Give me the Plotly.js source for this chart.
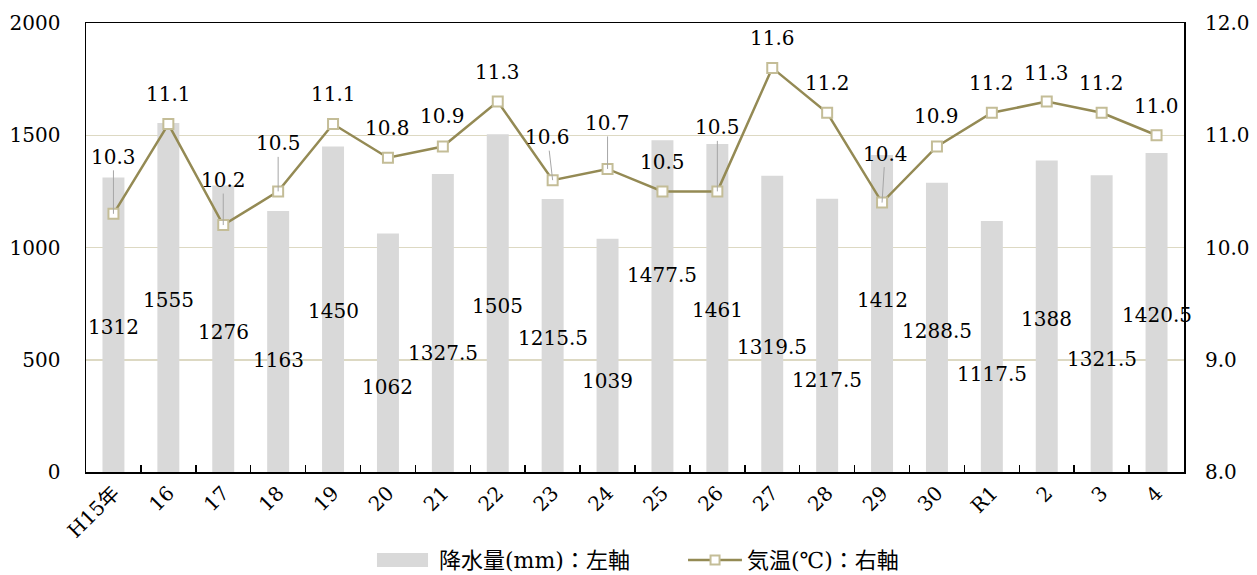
<!DOCTYPE html>
<html>
<head>
<meta charset="utf-8">
<script src="https://cdn.plot.ly/plotly-3.0.1.min.js"></script>
<style>html,body{margin:0;padding:0;background:#fff;}#chart{width:1257px;height:575px;}</style>
</head>
<body>
<div id="chart"></div>
<script>
// Data
const years = ["H15年","16","17","18","19","20","21","22","23","24","25","26","27","28","29","30","R1","2","3","4"];
const precipitation = [1312,1555,1276,1163,1450,1062,1327.5,1505,1215.5,1039,1477.5,1461,1319.5,1217.5,1412,1288.5,1117.5,1388,1321.5,1420.5];
const temperature = [10.3,11.1,10.2,10.5,11.1,10.8,10.9,11.3,10.6,10.7,10.5,10.5,11.6,11.2,10.4,10.9,11.2,11.3,11.2,11.0];
const seriesNames = ['降水量(mm)：左軸', '気温(℃)：右軸'];

// Label placement (layout only)
const precipLabelY = [646,766,624,499,717,379,530,739,597,405,877,722,557,410,766,628,437,682,503,699];
const tempLabelDx = [0,0,0,0,0,0,0,0,-5,0,0,0,0,0,3,0,0,0,0,0];
const tempLabelDy = [-57,-30,-45,-48,-30,-30,-30,-30,-43,-46,-29,-64,-30,-30,-49,-30,-30,-29,-30,-29];
const leader = [1,0,1,1,0,0,0,0,1,1,0,1,0,0,1,0,0,0,0,0];

const FONT = '"DejaVu Serif", "Noto Sans CJK JP", serif';
const BAR_COLOR = '#D9D9D9', LINE_COLOR = '#948A54', MARK_LINE = '#C4BD97';
const annotations = [];
years.forEach((c, i) => {
  annotations.push({
    x: i, y: precipLabelY[i], xref: 'x', yref: 'y',
    text: String(precipitation[i]), showarrow: false,
    font: {family: FONT, size: 20, color: '#000'}
  });
  const t = temperature[i].toFixed(1);
  if (leader[i]) {
    annotations.push({
      x: i, y: temperature[i], xref: 'x', yref: 'y2',
      text: t, showarrow: true, arrowhead: 0, arrowwidth: 1, arrowcolor: '#A6A6A6',
      ax: tempLabelDx[i], ay: tempLabelDy[i], standoff: 0,
      font: {family: FONT, size: 20, color: '#000'}
    });
  } else {
    annotations.push({
      x: i, y: temperature[i], xref: 'x', yref: 'y2',
      text: t, showarrow: false, yshift: -tempLabelDy[i], xshift: tempLabelDx[i],
      font: {family: FONT, size: 20, color: '#000'}
    });
  }
});

// Custom legend (paper coordinates)
const LEG_Y = -0.196;
annotations.push({x: 0.3197, y: LEG_Y, xref: 'paper', yref: 'paper', xanchor: 'left', yanchor: 'middle',
  text: seriesNames[0], showarrow: false, font: {family: FONT, size: 22, color: '#000'}});
annotations.push({x: 0.6002, y: LEG_Y, xref: 'paper', yref: 'paper', xanchor: 'left', yanchor: 'middle',
  text: seriesNames[1], showarrow: false, font: {family: FONT, size: 22, color: '#000'}});
const shapes = [
  {type: 'rect', xref: 'paper', yref: 'paper', x0: 0.2650, x1: 0.3115, y0: -0.2116, y1: -0.1804,
   fillcolor: BAR_COLOR, line: {width: 0}},
  {type: 'line', xref: 'paper', yref: 'paper', x0: 0.5483, x1: 0.5974, y0: LEG_Y, y1: LEG_Y,
   line: {color: LINE_COLOR, width: 2.5}},
  {type: 'rect', xref: 'paper', yref: 'paper', x0: 0.5729 - 0.0041, x1: 0.5729 + 0.0041,
   y0: LEG_Y - 0.0100, y1: LEG_Y + 0.0100, fillcolor: '#FFFFFF', line: {color: MARK_LINE, width: 2}}
];

const traces = [
  {
    type: 'bar', x: years, y: precipitation, name: seriesNames[0],
    marker: {color: BAR_COLOR}, width: 0.4, yaxis: 'y', hoverinfo: 'skip'
  },
  {
    type: 'scatter', mode: 'lines+markers', x: years, y: temperature, name: seriesNames[1],
    yaxis: 'y2', line: {color: LINE_COLOR, width: 2.5},
    marker: {symbol: 'square', size: 10, color: '#FFFFFF', line: {color: MARK_LINE, width: 2}},
    hoverinfo: 'skip'
  }
];

const layout = {
  width: 1257, height: 575,
  margin: {l: 86, r: 73, t: 23, b: 103},
  paper_bgcolor: '#fff', plot_bgcolor: '#fff',
  font: {family: FONT, size: 20, color: '#000'},
  showlegend: false,
  xaxis: {
    type: 'category', range: [-0.5, years.length - 0.5], tickangle: -45, ticks: 'inside', tickson: 'boundaries',
    ticklen: 7, tickcolor: '#000', tickwidth: 1.5, automargin: false,
    showline: true, linecolor: '#000', linewidth: 1.5, mirror: true,
    showgrid: false, tickfont: {family: FONT, size: 20, color: '#000'}
  },
  yaxis: {
    range: [0, 2000], dtick: 500, showgrid: true, gridcolor: '#DDD9C3', gridwidth: 1.5,
    showline: true, linecolor: '#000', linewidth: 1.5, mirror: true, automargin: false,
    ticks: '', ticklabelstandoff: 20, zeroline: false,
    tickfont: {family: FONT, size: 20, color: '#000'}
  },
  yaxis2: {
    range: [8, 12], dtick: 1, tickformat: '.1f', overlaying: 'y', side: 'right',
    showgrid: false, zeroline: false, showline: false, ticks: '', ticklabelstandoff: 20,
    automargin: false, tickfont: {family: FONT, size: 20, color: '#000'}
  },
  annotations: annotations,
  shapes: shapes
};

Plotly.newPlot('chart', traces, layout, {staticPlot: true, displayModeBar: false});
</script>
</body>
</html>
